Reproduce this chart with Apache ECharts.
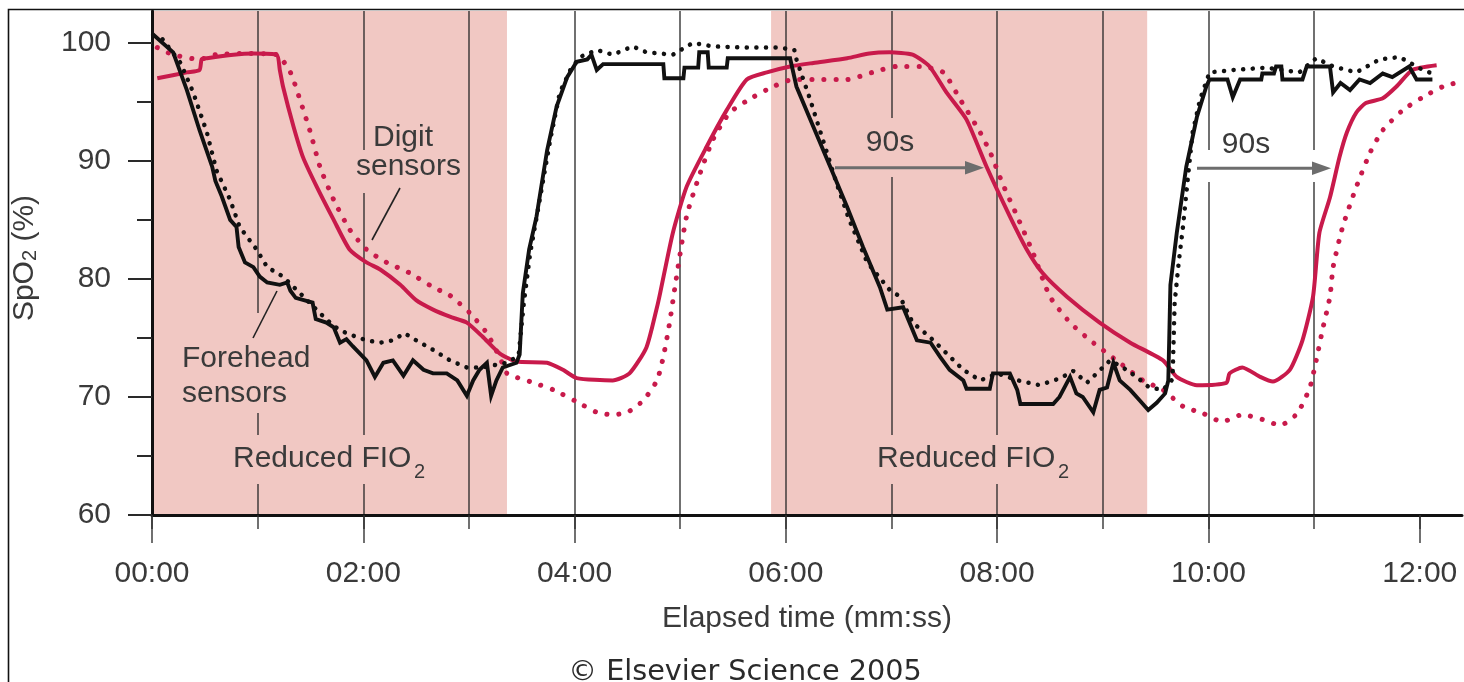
<!DOCTYPE html>
<html>
<head>
<meta charset="utf-8">
<script src="https://cdn.jsdelivr.net/npm/echarts@6/dist/echarts.min.js"></script>
<style>
html,body{margin:0;padding:0;background:#fff;}
#c{width:1464px;height:682px;}
</style>
</head>
<body>
<div id="c"></div>
<script>
// ---------- data (time in minutes, SpO2 in %) ----------
const reducedFio2Periods = [[0, 3.36], [5.86, 9.42]];

const minuteTicks = [0,1,2,3,4,5,6,7,8,9,10,11,12];
const labelTicks = [0,2,4,6,8,10,12];
const spo2MajorTicks = [60,70,80,90,100];
const spo2MinorTicks = [65,75,85,95];

const foreheadSolid = [[0,100.8],[0.2,99.2],[0.33,96.0],[0.45,92.6],[0.57,89.5],[0.6,88.3],[0.66,87.0],[0.74,85.0],[0.8,84.4],[0.82,82.7],[0.88,81.4],[0.96,81.0],[1.02,80.2],[1.09,79.7],[1.21,79.5],[1.28,79.7],[1.31,79.0],[1.36,78.4],[1.52,78.0],[1.55,76.6],[1.65,76.3],[1.72,75.9],[1.78,74.6],[1.84,74.9],[1.9,74.3],[2.03,73.1],[2.11,71.7],[2.19,72.9],[2.28,73.1],[2.38,71.8],[2.47,73.1],[2.57,72.3],[2.66,72.0],[2.79,72.0],[2.89,71.4],[2.98,70.1],[3.04,71.4],[3.1,72.3],[3.17,72.9],[3.21,70.1],[3.26,71.4],[3.32,72.5],[3.45,72.9],[3.48,73.6],[3.51,78.8],[3.57,82.5],[3.64,85.3],[3.74,90.9],[3.83,94.6],[3.93,97.1],[4.02,98.4],[4.12,98.6],[4.16,99.0],[4.21,97.7],[4.27,98.2],[4.84,98.2],[4.85,97.0],[5.03,97.0],[5.04,97.9],[5.17,97.9],[5.18,99.2],[5.26,99.2],[5.27,97.9],[5.44,97.9],[5.45,98.7],[6.04,98.7],[6.1,96.3],[6.26,92.9],[6.42,89.5],[6.58,86.1],[6.73,82.7],[6.89,79.3],[6.96,77.4],[7.11,77.6],[7.24,74.8],[7.37,74.6],[7.46,73.4],[7.55,72.3],[7.68,71.4],[7.71,70.7],[7.93,70.7],[7.96,72.0],[8.12,72.0],[8.19,70.6],[8.22,69.4],[8.53,69.4],[8.59,70.0],[8.69,71.7],[8.75,70.3],[8.81,70.0],[8.91,68.7],[8.97,70.6],[9.04,70.8],[9.1,72.9],[9.16,71.4],[9.26,70.6],[9.35,69.7],[9.43,68.9],[9.51,69.5],[9.59,70.3],[9.62,71.4],[9.64,79.5],[9.7,83.9],[9.79,89.5],[9.89,93.7],[9.98,96.3],[10.01,96.9],[10.18,96.9],[10.23,95.4],[10.3,96.9],[10.5,96.9],[10.51,97.4],[10.62,97.4],[10.64,98.0],[10.69,98.0],[10.7,96.9],[10.89,96.9],[10.93,98.0],[11.15,98.0],[11.18,95.8],[11.25,96.6],[11.34,96.0],[11.43,96.9],[11.53,96.6],[11.65,97.4],[11.74,97.1],[11.9,98.0],[11.97,96.9],[12.12,96.9]];

const foreheadDotted = [[0.1,100.3],[0.27,98.3],[0.39,95.8],[0.52,92.4],[0.61,89.2],[0.74,86.7],[0.83,84.4],[0.99,82.5],[1.09,81.0],[1.24,80.2],[1.4,78.8],[1.59,77.1],[1.72,76.0],[1.84,75.4],[2.03,74.8],[2.16,74.6],[2.28,74.8],[2.39,75.4],[2.5,74.8],[2.66,74.0],[2.82,73.1],[2.98,72.5],[3.13,72.5],[3.36,72.9],[3.47,73.5],[3.52,78.0],[3.58,82.2],[3.67,86.7],[3.77,91.8],[3.86,95.8],[3.96,97.7],[4.05,98.8],[4.21,99.4],[4.36,99.0],[4.55,99.7],[4.68,99.2],[4.93,99.0],[5.12,100.0],[5.31,99.7],[5.63,99.6],[5.94,99.6],[6.08,99.4],[6.1,98.6],[6.23,95.2],[6.35,91.8],[6.48,88.1],[6.6,85.0],[6.77,81.4],[6.98,79.1],[7.08,78.5],[7.2,76.3],[7.36,75.1],[7.52,73.7],[7.68,72.3],[7.84,71.4],[8.0,72.0],[8.2,71.4],[8.4,71.0],[8.6,71.6],[8.72,72.2],[8.85,71.2],[9.07,73.1],[9.19,72.5],[9.32,71.7],[9.44,70.8],[9.57,70.6],[9.66,71.5],[9.68,78.0],[9.72,81.5],[9.76,84.5],[9.8,88.1],[9.85,92.4],[9.92,95.2],[10.01,97.5],[10.23,97.7],[10.55,97.9],[10.86,97.5],[11.02,98.7],[11.18,98.0],[11.4,97.5],[11.62,98.6],[11.81,98.8],[12.03,97.7],[12.12,97.4]];

const digitSolid = [[0.05,97.0],[0.33,97.5],[0.45,97.7],[0.47,98.6],[0.52,98.7],[0.77,99.0],[0.96,99.1],[1.18,99.0],[1.21,97.7],[1.24,96.3],[1.34,92.9],[1.43,90.3],[1.56,87.8],[1.72,85.0],[1.87,82.5],[2.03,81.4],[2.16,80.8],[2.35,79.5],[2.5,78.2],[2.66,77.4],[2.82,76.8],[2.98,76.3],[3.13,75.1],[3.29,73.7],[3.45,73.0],[3.74,72.9],[3.89,72.3],[4.02,71.6],[4.36,71.4],[4.52,72.0],[4.68,74.2],[4.78,77.6],[4.81,78.8],[4.93,83.9],[5.06,87.8],[5.25,91.2],[5.44,94.3],[5.63,96.9],[5.82,97.5],[6.04,98.0],[6.26,98.3],[6.58,98.7],[6.79,99.1],[6.98,99.2],[7.2,99.0],[7.36,98.0],[7.52,95.8],[7.71,93.5],[7.9,89.5],[8.12,85.3],[8.28,82.5],[8.43,80.5],[8.66,78.5],[8.97,76.3],[9.26,74.6],[9.57,73.1],[9.7,71.7],[9.89,71.0],[10.17,71.2],[10.2,72.0],[10.32,72.5],[10.49,71.7],[10.61,71.3],[10.77,72.3],[10.89,74.8],[10.99,78.5],[11.05,83.9],[11.15,86.9],[11.24,90.3],[11.31,92.4],[11.4,94.1],[11.49,94.9],[11.65,95.3],[11.78,96.3],[11.93,97.7],[12.16,98.1]];

const digitDotted = [[0.05,99.6],[0.2,99.0],[0.45,98.6],[0.6,99.0],[0.9,99.1],[1.18,99.0],[1.31,97.5],[1.4,95.2],[1.5,92.4],[1.59,89.5],[1.72,86.7],[1.87,84.2],[2.03,82.5],[2.22,81.4],[2.44,80.5],[2.66,79.3],[2.82,78.6],[3.01,77.1],[3.17,75.4],[3.3,73.2],[3.36,72.0],[3.58,71.3],[3.8,70.6],[4.02,69.6],[4.21,68.7],[4.36,68.5],[4.5,68.7],[4.65,69.7],[4.78,71.4],[4.84,73.4],[4.9,76.3],[4.95,79.3],[5.06,85.3],[5.19,89.0],[5.31,91.8],[5.47,94.1],[5.69,95.4],[5.88,96.3],[6.07,96.9],[6.32,96.9],[6.58,96.9],[6.82,97.5],[7.05,98.0],[7.27,98.0],[7.49,97.5],[7.65,95.2],[7.84,92.4],[7.94,90.6],[8.05,88.1],[8.19,85.3],[8.34,82.2],[8.5,78.5],[8.69,76.3],[8.88,74.8],[9.13,73.1],[9.38,71.4],[9.57,70.6],[9.76,69.2],[9.95,68.6],[10.13,67.9],[10.32,68.5],[10.51,68.1],[10.68,67.6],[10.84,68.6],[10.96,70.8],[11.02,73.1],[11.08,75.7],[11.15,78.5],[11.18,81.0],[11.27,84.4],[11.4,87.8],[11.53,90.7],[11.65,92.6],[11.84,94.3],[12.03,95.4],[12.22,96.3],[12.38,96.7]];

// ---------- styling ----------
const FONT = '"Liberation Sans", Arial, Helvetica, sans-serif';
const TEXT = '#3a3a3a';
const PINK = '#f1c8c3';
const CRIMSON = '#c81a4b';
const BLACK = '#111111';
const GRIDLINE = 'rgba(45,45,45,0.85)';
const ARROW = '#6d6d6d';
const yMin = 60, yMax = 102.7, xMax = 12.4;
const pad2 = n => (n < 10 ? '0' : '') + n;

const chart = echarts.init(document.getElementById('c'), null, {renderer: 'canvas'});

const txt = (text, x, y, align, size, extra) => Object.assign({
  type: 'text', z: 3,
  style: {text: text, x: x, y: y, font: size + 'px ' + FONT, fill: TEXT,
          align: align, textAlign: align, verticalAlign: 'middle', textVerticalAlign: 'middle'}
}, extra || {});
const rect = (x, y, w, h, fill) => ({type: 'rect', z: 1, shape: {x: x, y: y, width: w, height: h}, style: {fill: fill}});

const option = {
  animation: false,
  backgroundColor: '#ffffff',
  grid: {left: 152, right: 2, top: 11, bottom: 167, containLabel: false, outerBoundsMode: 'none'},
  xAxis: [
    {
      type: 'value', min: 0, max: xMax, interval: 1, position: 'bottom',
      axisLine: {show: true, onZero: false, lineStyle: {color: BLACK, width: 3}},
      axisTick: {show: true, customValues: minuteTicks, length: 14, lineStyle: {color: GRIDLINE, width: 1.6}},
      axisLabel: {show: false},
      splitLine: {show: true, showMaxLine: false, lineStyle: {color: GRIDLINE, width: 1.6}}
    },
    {
      type: 'value', min: 0, max: xMax, interval: 2, position: 'bottom', offset: 0,
      axisLine: {show: false},
      axisTick: {show: true, customValues: labelTicks, length: 28, lineStyle: {color: GRIDLINE, width: 1.6}},
      axisLabel: {
        show: true, customValues: labelTicks, margin: 44,
        fontFamily: FONT, fontSize: 30, lineHeight: 30, color: TEXT,
        formatter: v => (Math.abs(v - Math.round(v)) < 1e-6 && Math.round(v) % 2 === 0) ? pad2(Math.round(v)) + ':00' : ''
      },
      splitLine: {show: false},
      name: 'Elapsed time (mm:ss)', nameLocation: 'middle', nameGap: 89,
      nameTextStyle: {fontFamily: FONT, fontSize: 30, lineHeight: 30, color: TEXT}
    }
  ],
  yAxis: [
    {
      type: 'value', min: yMin, max: yMax, interval: 10, position: 'left',
      axisLine: {show: true, onZero: false, lineStyle: {color: BLACK, width: 3}},
      axisTick: {show: true, customValues: spo2MajorTicks, length: 24, lineStyle: {color: '#2a2a2a', width: 2}},
      axisLabel: {show: true, customValues: spo2MajorTicks, margin: 41, fontFamily: FONT, fontSize: 30, color: TEXT,
        padding: [5, 0, 0, 0],
        formatter: v => (Math.abs(v % 10) < 1e-6 && v <= 100) ? String(v) : ''},
      splitLine: {show: false},
      name: '{n|SpO}{s|2}{n| (%)}', nameLocation: 'middle', nameGap: 112,
      nameTextStyle: {fontFamily: FONT, fontSize: 30, color: TEXT, padding: [0, 0, 0, 10],
        rich: {
          n: {fontFamily: FONT, fontSize: 30, lineHeight: 30, color: TEXT},
          s: {fontFamily: FONT, fontSize: 20, lineHeight: 12, color: TEXT, verticalAlign: 'bottom'}
        }}
    },
    {
      type: 'value', min: yMin, max: yMax, interval: 10, position: 'left', offset: 0,
      axisLine: {show: false},
      axisTick: {show: true, customValues: spo2MinorTicks, length: 15, lineStyle: {color: '#2a2a2a', width: 2}},
      axisLabel: {show: false},
      splitLine: {show: false}
    }
  ],
  series: [
    {
      name: 'Reduced FIO2', type: 'custom', z: -1, silent: true, clip: true,
      data: reducedFio2Periods,
      renderItem: (params, api) => {
        const p0 = api.coord([api.value(0), yMax]);
        const p1 = api.coord([api.value(1), yMin]);
        return {type: 'rect', shape: {x: p0[0], y: p0[1], width: p1[0] - p0[0], height: p1[1] - p0[1]},
                style: {fill: PINK}};
      }
    },
    {name: 'Digit (dotted)', type: 'line', data: digitDotted, symbol: 'none', smooth: 0.2, z: 2,
     lineStyle: {color: CRIMSON, width: 5, type: [0.1, 12], cap: 'round'}},
    {name: 'Digit (solid)', type: 'line', data: digitSolid, symbol: 'none', smooth: 0.2, z: 2,
     lineStyle: {color: CRIMSON, width: 4}},
    {name: 'Forehead (dotted)', type: 'line', data: foreheadDotted, symbol: 'none', smooth: false, z: 2,
     lineStyle: {color: BLACK, width: 4.5, type: [0.1, 9.5], cap: 'round'}},
    {name: 'Forehead (solid)', type: 'line', data: foreheadSolid, symbol: 'none', smooth: false, z: 2,
     lineStyle: {color: BLACK, width: 3.9, join: 'miter'}}
  ],
  graphic: [
    rect(352, 150, 113, 43, PINK),
    rect(178, 313, 140, 100, PINK),
    rect(228, 435, 207, 49, PINK),
    rect(872, 435, 208, 49, PINK),
    rect(860, 118, 60, 59, PINK),
    rect(1199, 150, 118, 32, '#ffffff'),
    txt('Digit', 403, 137.6, 'center', 30),
    txt('sensors', 408.5, 166.6, 'center', 30),
    txt('Forehead', 182, 359, 'left', 30),
    txt('sensors', 182, 393.6, 'left', 30),
    txt('Reduced FIO', 233, 459, 'left', 30),
    txt('2', 414, 472, 'left', 20),
    txt('Reduced FIO', 877, 459, 'left', 30),
    txt('2', 1058, 472, 'left', 20),
    txt('90s', 890, 143, 'center', 30),
    txt('90s', 1246, 144.5, 'center', 30),
    {type: 'line', z: 3, shape: {x1: 400, y1: 188, x2: 372, y2: 240}, style: {stroke: '#222', lineWidth: 1.6}},
    {type: 'line', z: 3, shape: {x1: 277, y1: 291, x2: 253, y2: 338}, style: {stroke: '#222', lineWidth: 1.6}},
    {type: 'line', z: 3, shape: {x1: 835, y1: 167.7, x2: 968, y2: 167.7}, style: {stroke: ARROW, lineWidth: 3}},
    {type: 'polygon', z: 3, shape: {points: [[984, 167.7], [965, 161], [965, 174.4]]}, style: {fill: ARROW}},
    {type: 'line', z: 3, shape: {x1: 1197, y1: 168.3, x2: 1315, y2: 168.3}, style: {stroke: ARROW, lineWidth: 3}},
    {type: 'polygon', z: 3, shape: {points: [[1331, 168.3], [1312, 161.6], [1312, 175]]}, style: {fill: ARROW}},
    {type: 'polyline', z: 3, shape: {points: [[8.5, 682], [8.5, 9.5], [1464, 9.5]]}, style: {stroke: '#111', lineWidth: 1.6, fill: null}},
    {type: 'text', z: 3, style: {text: '\u00A9 Elsevier Science 2005', x: 745, y: 673,
      font: '28.7px "DejaVu Sans", sans-serif', fill: '#2a2a2a',
      align: 'center', textAlign: 'center', verticalAlign: 'middle', textVerticalAlign: 'middle'}}
  ]
};
chart.setOption(option);
</script>
</body>
</html>
